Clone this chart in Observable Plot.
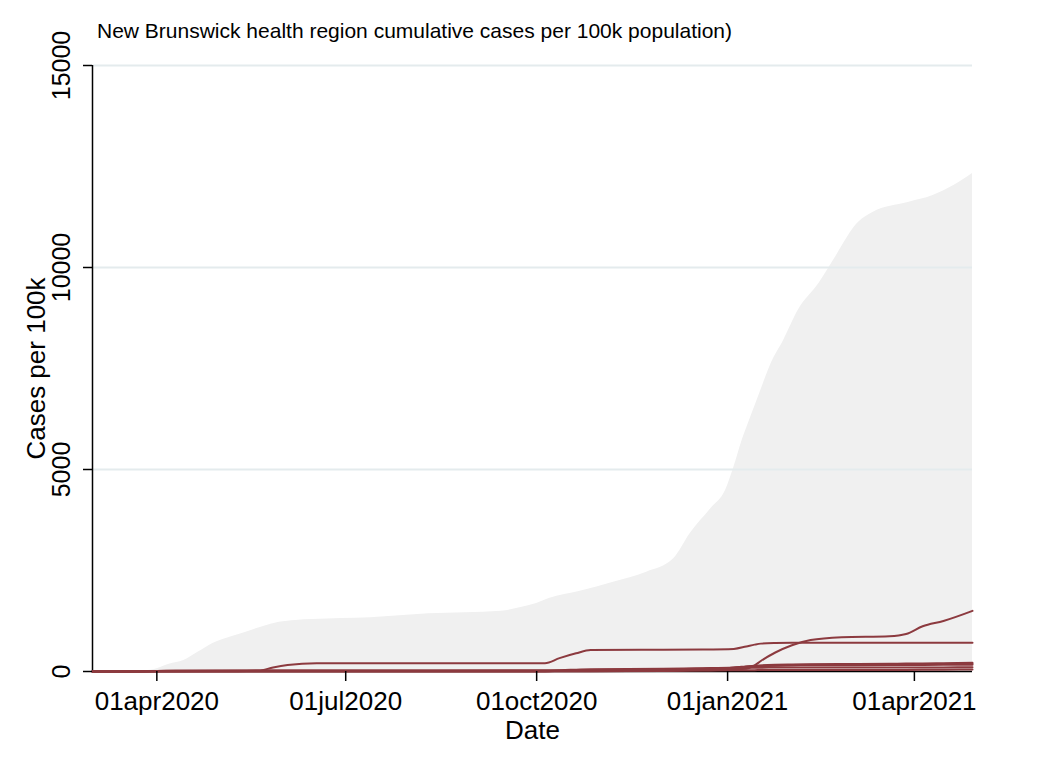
<!DOCTYPE html>
<html><head><meta charset="utf-8">
<script src="https://cdn.jsdelivr.net/npm/d3@7"></script>
<script src="https://cdn.jsdelivr.net/npm/@observablehq/plot@0.6"></script>
<style>
body{margin:0;background:#fff;}
#wrap{position:relative;width:1050px;height:764px;}
#title{position:absolute;left:97px;top:19px;font-family:"Liberation Sans",Arial,sans-serif;font-size:21px;color:#000;white-space:nowrap;z-index:2;}
#wrap svg{position:absolute;left:0;top:0;}
</style></head><body>
<div id="wrap"><div id="title">New Brunswick health region cumulative cases per 100k population)</div></div>
<script>
// Grey envelope: highest cumulative cases per 100k among health regions
const envDates = ["2020-03-01","2020-03-20","2020-03-29","2020-04-01","2020-04-07","2020-04-14","2020-04-21","2020-04-28","2020-05-07","2020-05-14","2020-05-22","2020-05-30","2020-06-07","2020-06-15","2020-07-13","2020-08-10","2020-09-14","2020-09-24","2020-10-01","2020-10-07","2020-10-22","2020-11-07","2020-11-23","2020-12-06","2020-12-14","2020-12-24","2020-12-31","2021-01-04","2021-01-08","2021-01-11","2021-01-17","2021-01-22","2021-01-28","2021-02-04","2021-02-14","2021-02-21","2021-03-05","2021-03-12","2021-03-29","2021-04-10","2021-04-20","2021-04-29"];
const envMax = [0,5,30,70,180,272,480,693,860,973,1110,1220,1265,1287,1328,1427,1492,1590,1683,1807,1988,2211,2458,2789,3415,4034,4480,5049,5717,6138,6955,7623,8192,8935,9603,10172,11113,11360,11608,11781,12028,12325];

// New Brunswick health zones
const lineDates = ["2020-03-01","2020-03-15","2020-04-01","2020-05-01","2020-05-20","2020-05-27","2020-06-03","2020-06-17","2020-10-05","2020-10-12","2020-10-20","2020-10-27","2020-12-01","2020-12-20","2021-01-04","2021-01-10","2021-01-14","2021-01-17","2021-01-24","2021-02-01","2021-02-10","2021-02-25","2021-03-20","2021-03-28","2021-04-05","2021-04-15","2021-04-29"];
const zone1 = [0,2,15,22,23,23,23,24,26,32,45,55,65,80,100,125,140,150,165,175,180,185,192,196,200,206,215];
const zone2 = [0,1,10,15,16,16,16,17,18,20,24,28,40,60,90,115,128,135,145,150,153,155,158,160,163,166,170];
const zone3 = [0,1,12,20,20,20,20,21,22,24,28,32,45,70,95,120,132,140,150,160,165,170,175,178,182,186,192];
const zone4 = [0,0,6,6,6,6,6,6,6,8,8,8,15,30,50,70,150,260,470,650,780,850,875,930,1120,1250,1500];
const zone5 = [0,0,4,5,20,100,160,206,206,330,450,530,540,545,560,620,665,690,705,710,710,710,710,710,710,710,712];
const zone6 = [0,0,3,5,5,5,5,6,7,15,25,40,55,65,80,90,93,95,97,98,99,100,100,100,101,102,105];
const zone7 = [0,0,2,3,3,3,3,3,3,4,5,8,15,25,30,33,34,35,36,37,38,39,40,40,42,45,48];
const zoneNames = ["Zone 1","Zone 2","Zone 3","Zone 4","Zone 5","Zone 6","Zone 7"];

// Axes
const xTickDates = ["2020-04-01","2020-07-01","2020-10-01","2021-01-01","2021-04-01"];
const xTickLabels = ["01apr2020","01jul2020","01oct2020","01jan2021","01apr2021"];
const yTicks = [0,5000,10000,15000];
const yGrid = [5000,10000,15000];
const xDomain = ["2020-03-01","2021-04-29"];

const parse = d3.utcParse("%Y-%m-%d");
const env = envDates.map((d,i)=>({date:parse(d), max:envMax[i]}));
const zoneValues = [zone1,zone2,zone3,zone4,zone5,zone6,zone7];
const lines = zoneValues.flatMap((vals,k)=>lineDates.map((d,i)=>({zone:zoneNames[k], date:parse(d), value:vals[i]})));
const xTicks = xTickDates.map(parse);
const labelOf = new Map(xTicks.map((d,i)=>[+d, xTickLabels[i]]));
const font = '"Liberation Sans", Arial, sans-serif';

const chart = Plot.plot({
  width:1050, height:764,
  marginLeft:92, marginRight:78, marginTop:65, marginBottom:93,
  style:{fontFamily:font, background:"transparent", color:"#000", overflow:"visible"},
  x:{type:"utc", domain:xDomain.map(parse)},
  y:{domain:[0,15000]},
  marks:[
    Plot.areaY(env,{x:"date", y1:0, y2:"max", fill:"#f0f0f0", curve:"monotone-x"}),
    Plot.ruleY(yGrid,{stroke:"#e4ebed", strokeWidth:2}),
    Plot.ruleY([0],{stroke:"#000", strokeWidth:1.5}),
    Plot.ruleX([parse(xDomain[0])],{y1:0, y2:15000, stroke:"#000", strokeWidth:1.5}),
    Plot.lineY(lines,{x:"date", y:"value", z:"zone", stroke:"#8c3a3f", strokeWidth:2, curve:"monotone-x"}),
    Plot.axisX({ticks:xTicks, tickFormat:d=>labelOf.get(+d), tickSize:10, tickPadding:10, fontSize:26, label:null, strokeWidth:1.5}),
    Plot.axisY({ticks:yTicks, tickSize:9, tickFormat:()=>"", label:null, strokeWidth:1.5}),
    Plot.text(yTicks,{y:d=>d, text:d=>String(d), frameAnchor:"left", dx:-23, rotate:-90, fontSize:25, textAnchor:"middle", lineAnchor:"bottom"}),
    Plot.text(["Cases per 100k"],{frameAnchor:"left", dx:-48, rotate:-90, fontSize:26, textAnchor:"middle", lineAnchor:"bottom"}),
    Plot.text(["Date"],{frameAnchor:"bottom", dy:67, fontSize:26, lineAnchor:"bottom"})
  ]
});
document.getElementById("wrap").appendChild(chart);
</script>
</body></html>
